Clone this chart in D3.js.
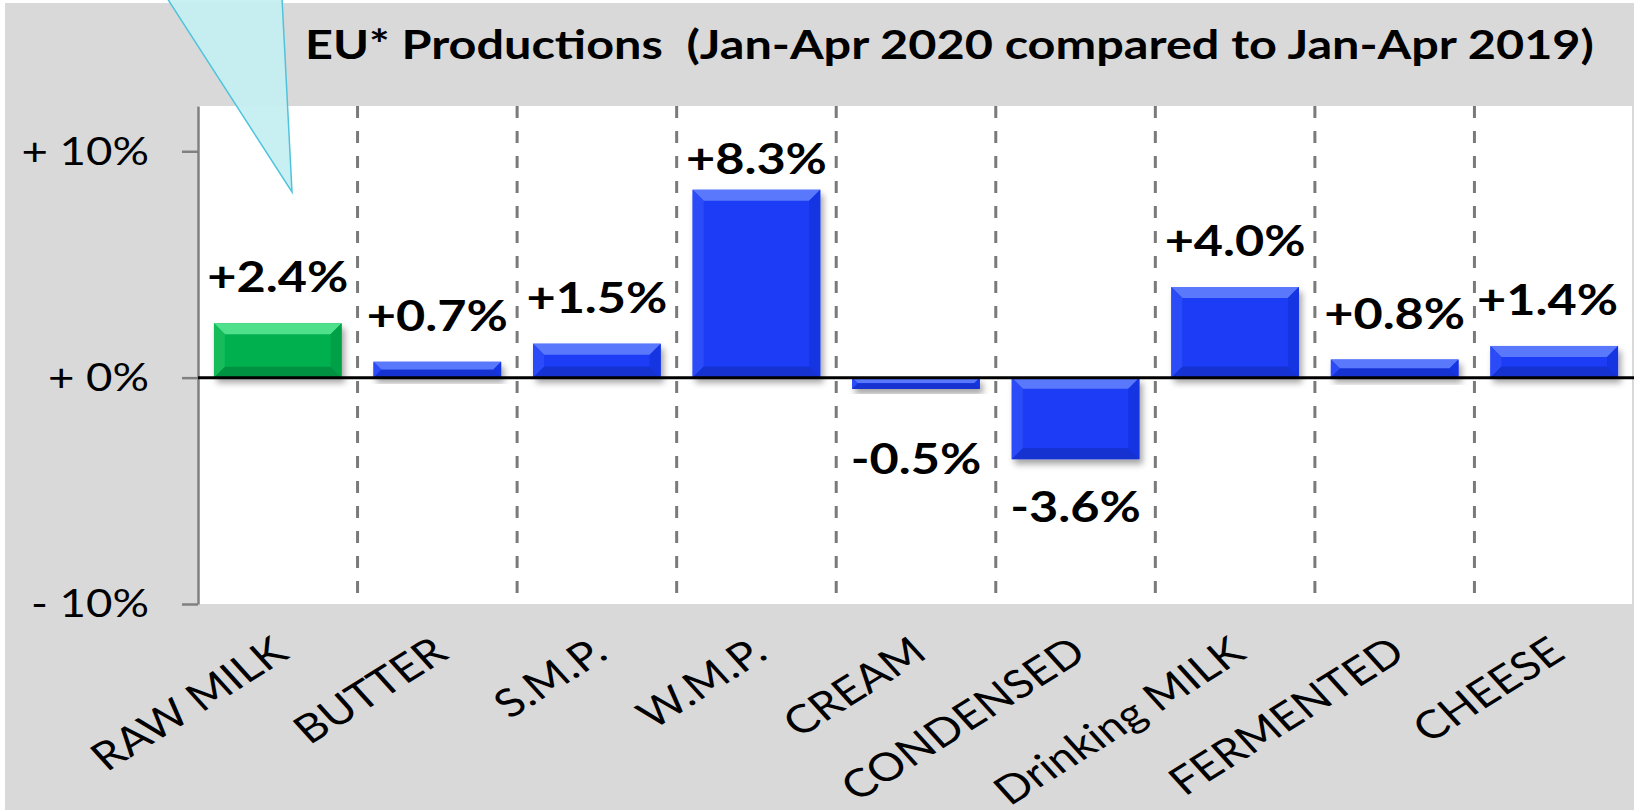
<!DOCTYPE html>
<html lang="en">
<head>
<meta charset="UTF-8">
<title>EU Productions</title>
<script src="https://d3js.org/d3.v7.min.js"></script>
<style>
  body { margin: 0; background: #fff; }
  text { font-family: Lato, "Open Sans", sans-serif; fill: #000; }
</style>
</head>
<body>
<div id="chart"></div>
<script>
// data
const categories = ["RAW MILK", "BUTTER", "S.M.P.", "W.M.P.", "CREAM", "CONDENSED", "Drinking MILK", "FERMENTED", "CHEESE"];
const values = [2.4, 0.7, 1.5, 8.3, -0.5, -3.6, 4.0, 0.8, 1.4];
const highlighted = ["RAW MILK"];
const yTicks = [-10, 0, 10];
const yTickLabels = ["- 10%", "+ 0%", "+ 10%"];
const title = "EU* Productions  (Jan-Apr 2020 compared to Jan-Apr 2019)";

const width = 1634, height = 812;
const plot = { left: 198, right: 1632, top: 106, bottom: 604 };
const stretch = 1.2; // text in the source is widened horizontally

const svg = d3.select("#chart").append("svg")
    .attr("width", width).attr("height", height);

const defs = svg.append("defs");
defs.append("filter").attr("id", "shadow")
    .attr("x", "-20%").attr("y", "-20%").attr("width", "140%").attr("height", "160%")
  .append("feDropShadow")
    .attr("dx", 3).attr("dy", 5).attr("stdDeviation", 3)
    .attr("flood-color", "#000").attr("flood-opacity", 0.35);

// background + plot area
svg.append("rect").attr("x", 5).attr("y", 3).attr("width", width - 5).attr("height", height - 5)
    .attr("fill", "#d9d9d9");
svg.append("rect").attr("x", plot.left).attr("y", plot.top)
    .attr("width", plot.right - plot.left).attr("height", plot.bottom - plot.top)
    .attr("fill", "#fff");

const x = d3.scaleBand().domain(categories)
    .range([plot.left, width]).paddingInner(0.2).paddingOuter(0.1);
const y = d3.scaleLinear().domain([-10, 12]).range([plot.bottom, plot.top]);

// dashed separators between categories
svg.append("g").selectAll("line")
  .data(categories.slice(1))
  .join("line")
    .attr("x1", d => x(d) - x.step() * 0.1).attr("x2", d => x(d) - x.step() * 0.1)
    .attr("y1", plot.top).attr("y2", plot.bottom)
    .attr("stroke", "#7a7a7a").attr("stroke-width", 3)
    .attr("stroke-dasharray", "12,13");

// y axis
const yAxis = svg.append("g").attr("transform", `translate(${plot.left},0)`)
    .call(d3.axisLeft(y).tickValues(yTicks)
      .tickFormat((d, i) => yTickLabels[i]).tickSize(16).tickSizeOuter(0));
yAxis.select(".domain").attr("stroke", "#808080").attr("stroke-width", 2.5);
yAxis.selectAll(".tick line").attr("stroke", "#808080").attr("stroke-width", 2.5);
yAxis.selectAll(".tick text")
    .attr("x", 0).attr("dy", "0.34em")
    .attr("transform", `translate(-49,0) scale(${stretch},1)`)
    .attr("text-anchor", "end")
    .style("font-size", "38px").style("font-family", "Lato");

// bars with a bevel look
const palette = {
  blue:  { base: "#1b3cf5", top: "#5a78fb", left: "#2c4bf7", right: "#1634e2", bottom: "#1230d0" },
  green: { base: "#00b04f", top: "#4fe08c", left: "#12bb5a", right: "#00a046", bottom: "#009240" }
};

const bars = svg.append("g").selectAll("g")
  .data(categories.map((c, i) => ({ c, v: values[i] })))
  .join("g")
    .attr("filter", "url(#shadow)");

bars.each(function (d) {
  const g = d3.select(this);
  const col = highlighted.includes(d.c) ? palette.green : palette.blue;
  const x0 = x(d.c), w = x.bandwidth();
  const y0 = Math.min(y(d.v), y(0)), h = Math.abs(y(d.v) - y(0));
  const b = Math.min(11, h / 2, w / 2);
  const x1 = x0 + w, y1 = y0 + h;
  g.append("rect").attr("x", x0).attr("y", y0).attr("width", w).attr("height", h).attr("fill", col.base);
  const poly = (pts, fill) => g.append("polygon")
      .attr("points", pts.map(p => p.join(",")).join(" ")).attr("fill", fill);
  poly([[x0, y0], [x1, y0], [x1 - b, y0 + b], [x0 + b, y0 + b]], col.top);
  poly([[x0, y0], [x0 + b, y0 + b], [x0 + b, y1 - b], [x0, y1]], col.left);
  poly([[x1, y0], [x1, y1], [x1 - b, y1 - b], [x1 - b, y0 + b]], col.right);
  poly([[x0, y1], [x0 + b, y1 - b], [x1 - b, y1 - b], [x1, y1]], col.bottom);
});

// zero line
svg.append("line")
    .attr("x1", plot.left).attr("x2", width)
    .attr("y1", y(0)).attr("y2", y(0))
    .attr("stroke", "#000").attr("stroke-width", 3);

// value labels
const fmt = v => (v >= 0 ? "+" : "-") + Math.abs(v).toFixed(1) + "%";
const labels = svg.append("g").selectAll("text")
  .data(categories.map((c, i) => ({ c, v: values[i] })))
  .join("text")
    .attr("text-anchor", "middle")
    .style("font-size", "42px").style("font-weight", "bold")
    .text(d => fmt(d.v));

labels.each(function (d) {
  const cx = x(d.c) + x.bandwidth() / 2;
  const by = d.v >= 0
    ? Math.max(y(d.v) - 31, plot.top + 68)
    : Math.max(y(d.v) + 63, y(0) + 96);
  const half = this.getComputedTextLength() * stretch / 2;
  const px = Math.min(cx, width - 16 - half);
  d3.select(this).attr("transform", `translate(${px},${by}) scale(${stretch},1)`);
});

// category axis
const xAxis = svg.append("g").attr("transform", `translate(0,${plot.bottom})`)
    .call(d3.axisBottom(x).tickSize(0));
xAxis.select(".domain").remove();
xAxis.selectAll(".tick text")
    .attr("x", 0).attr("y", 0).attr("dy", 0)
    .attr("text-anchor", "end")
    .attr("transform", `translate(13,53) scale(${stretch},1) rotate(-37)`)
    .style("font-size", "39px").style("font-family", "Lato");

// title
svg.append("text")
    .attr("transform", `translate(305,59) scale(${stretch},1)`)
    .attr("xml:space", "preserve")
    .style("white-space", "pre")
    .style("font-size", "40.5px").style("font-weight", "bold")
    .text(title);

// callout pointer coming from above
svg.append("polygon")
    .attr("points", "167,-2 282,-2 292,192")
    .attr("fill", "#c5eff2").attr("fill-opacity", 0.95)
    .attr("stroke", "#4fc3dc").attr("stroke-width", 1.5);
</script>
</body>
</html>
